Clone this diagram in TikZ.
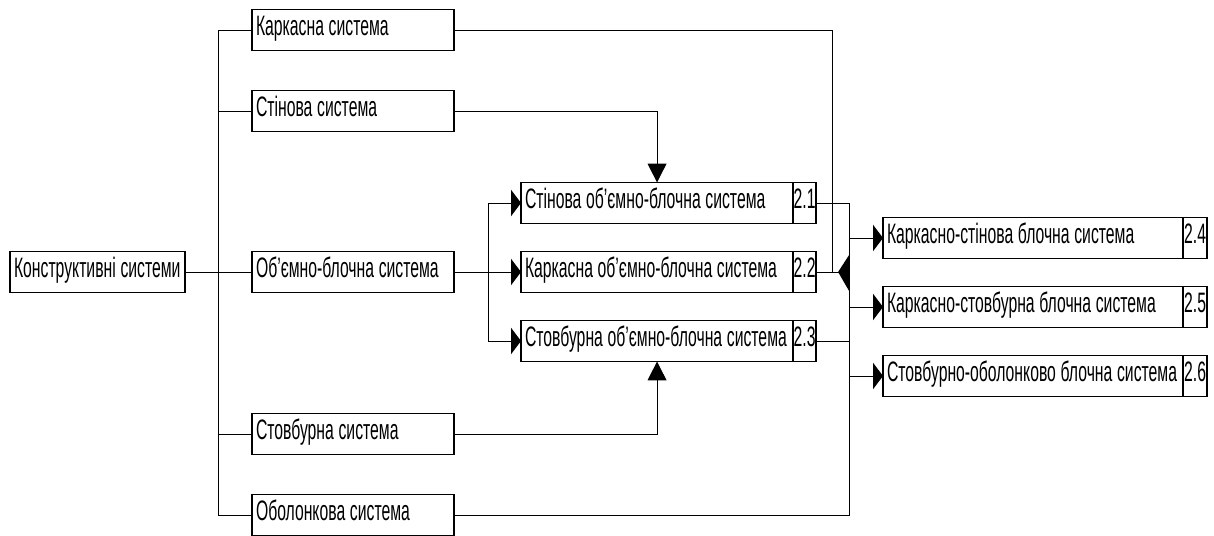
\documentclass[tikz,border=0pt]{standalone}
\usepackage{fontspec}
\setmainfont{Liberation Sans}[FakeStretch=0.56]
\usetikzlibrary{arrows.meta}
\newcommand\sysfont{\fontsize{20}{24}\selectfont}
\tikzset{
	sys/.style={draw, line width=1.1pt, anchor=west, align=left, minimum height=1.025cm, inner xsep=0.1cm, inner ysep=0pt, outer sep=0pt, text height=0.72em, text depth=0pt},
	num/.style={draw, line width=1.1pt, anchor=west, inner xsep=0pt, inner ysep=0pt, outer sep=0pt, minimum height=1.025cm, text height=0.72em, text depth=0pt},
	vtip/.style={-{Triangle[length=0.47cm,width=0.47cm]}}
}
\begin{document}
\begin{tikzpicture}[x=0.025cm, y=-0.025cm, font=\sysfont, line width=0.7pt, >={Triangle[length=0.25cm,width=0.66cm]}]
		\useasboundingbox (0,0) rectangle (1214,536);
		\node[sys, text width=4.175cm] (root) at (10,272) {\mbox{Конструктивні\,системи}};
		\foreach \n/\y/\t in {kark/30/Каркасна\,система, stin/111/Стінова\,система, vol/272/Об'ємно-блочна\,система, stov/434/Стовбурна\,система, obol/515/Оболонкова\,система}
		\node[sys, text width=4.85cm] (\n) at (252,\y) {\mbox{\t}};
		\foreach \k/\y/\t in {1/203/Стінова\,об'ємно-блочна\,система, 2/272/Каркасна\,об'ємно-блочна\,система, 3/341/Стовбурна\,об'ємно-блочна\,система}{
			\node[sys, text width=6.6cm] (b\k) at (521,\y) {\mbox{\t}};
			\node[num, minimum width=0.575cm] (n\k) at (b\k.east) {2.\k};
		}
		\foreach \k/\y/\t in {4/238/Каркасно-стінова\,блочна\,система, 5/307/Каркасно-стовбурна\,блочна\,система, 6/376/Стовбурно-оболонково\,блочна\,система}{
			\node[sys, text width=7.3cm] (b\k) at (883,\y) {\mbox{\t}};
			\node[num, minimum width=0.6cm] (n\k) at (b\k.east) {2.\k};
		}
		\draw (kark.west) -- ++(-34,0) coordinate (t) |- (obol.west);
		\foreach \n in {stin,vol,stov}
		\draw (\n.west) -- (\n.west -| t);
		\draw (root) -- (vol);
		\draw (vol.east) -- ++(34,0) coordinate (s);
		\foreach \k in {1,2,3}
		\draw[->] (s) |- (b\k.west);
		\draw[vtip] (stin.east) -| (b1.north);
		\draw[vtip] (stov.east) -| (b3.south);
		\coordinate (j) at ([xshift=0.4cm]n2.east);
		\draw (kark.east) -| (j);
		\draw (n2.east) -- ++(33,0) coordinate (m);
		\draw (n1.east) -- ++(33,0) coordinate (r) |- (obol.east);
		\draw (n3.east) -- (n3.east -| r);
		\foreach \k in {4,5,6}
		\draw[->] (b\k.west -| r) -- (b\k.west);
		\fill (m) ++(0,-17) -- ++(-11,17) -- ++(11,19) -- cycle;
\end{tikzpicture}
\end{document}
